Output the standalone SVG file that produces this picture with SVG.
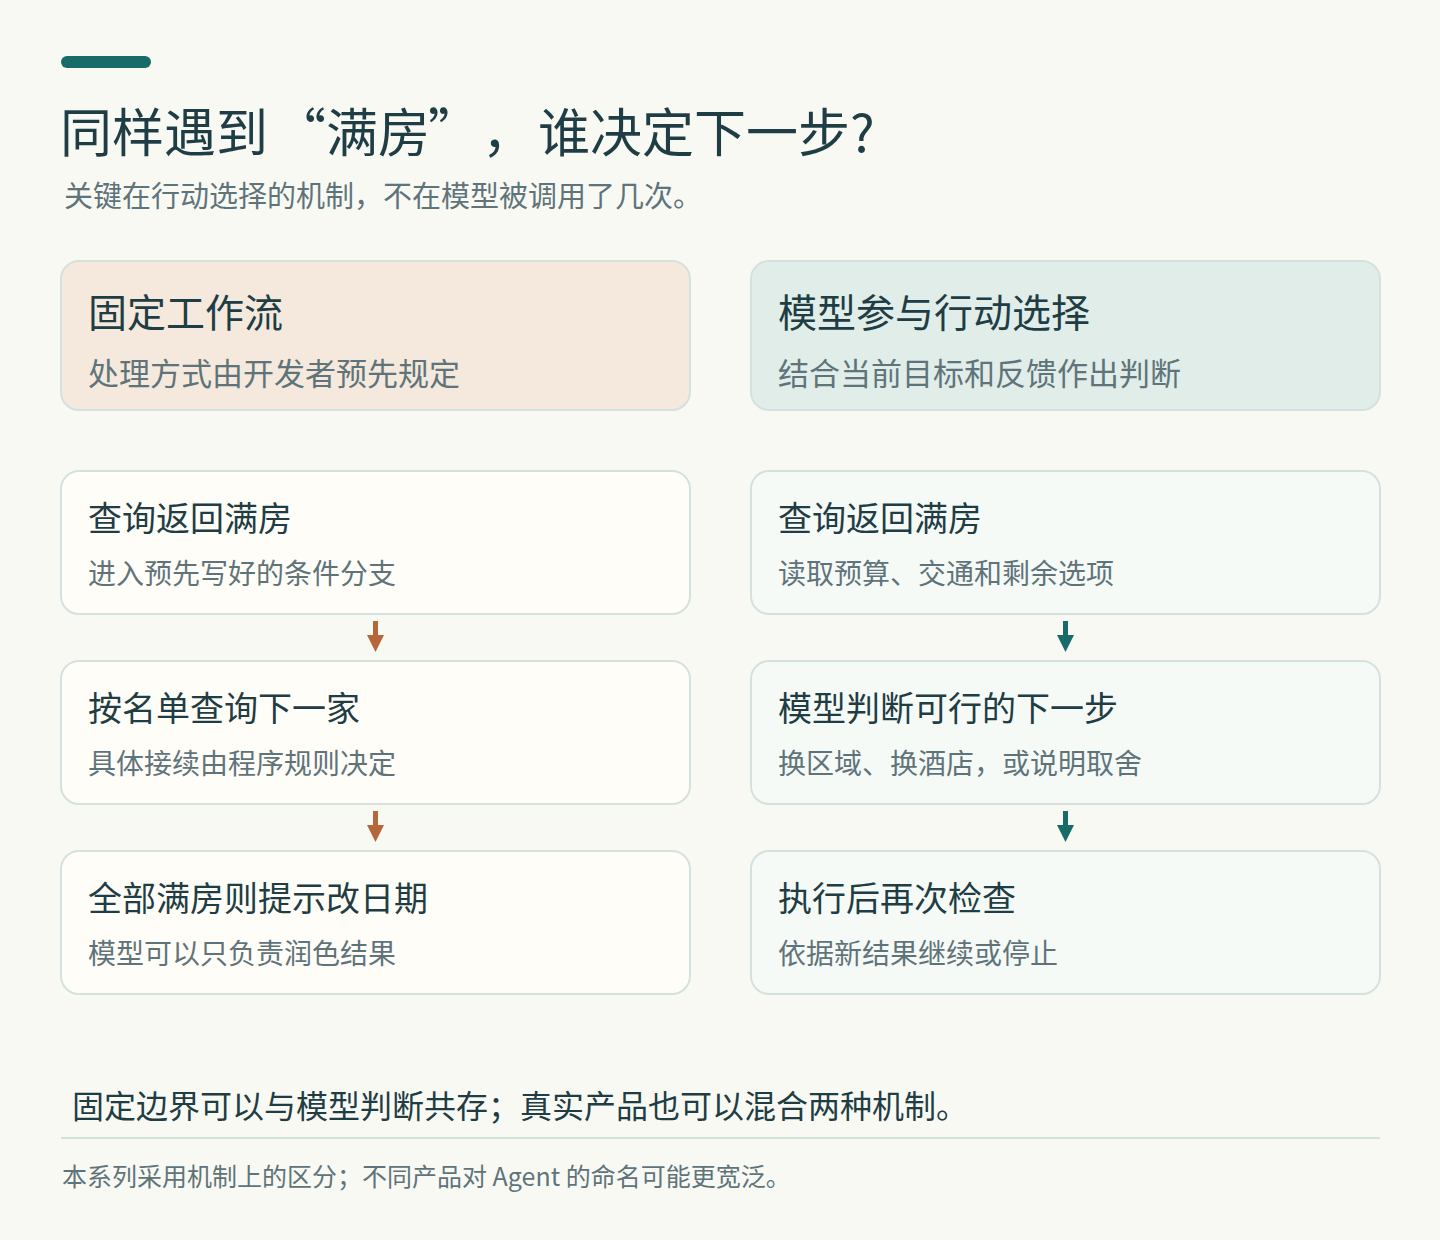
<svg xmlns="http://www.w3.org/2000/svg" width="1440" height="1240" viewBox="0 0 1440 1240">
<style>
text{font-family:"Noto Sans CJK SC","Noto Sans",sans-serif}
.t{fill:#1f3d44}
.s{fill:#5f747a}
.box{stroke:#d5e1de;stroke-width:2}
.hl{fill:#f4e9dc}
.hr{fill:#e0ede8}
.sl{fill:#fffdf7}
.sr{fill:#f6faf7}
.ht{font-size:39px}
.hs{font-size:31px}
.st{font-size:34px}
.ss{font-size:28px}
</style>
<rect width="1440" height="1240" fill="#f9f9f4"/>
<rect x="61" y="56" width="90" height="12" rx="6" fill="#176b68"/>
<text y="152" class="t" font-size="52"><tspan x="60">同样遇到</tspan><tspan x="274">“</tspan><tspan x="326">满房</tspan><tspan x="428">”</tspan><tspan x="482">，</tspan><tspan x="538">谁决定下一步?</tspan></text>
<text x="64" y="207" class="s" font-size="29">关键在行动选择的机制，不在模型被调用了几次。</text>

<g id="header-fixed">
<rect x="61" y="261" width="629" height="149" rx="18" class="box hl"/>
<text x="88" y="327" class="t ht">固定工作流</text>
<text x="88" y="385" class="s hs">处理方式由开发者预先规定</text>
</g>
<g id="header-model">
<rect x="751" y="261" width="629" height="149" rx="18" class="box hr"/>
<text x="778" y="327" class="t ht">模型参与行动选择</text>
<text x="778" y="385" class="s hs">结合当前目标和反馈作出判断</text>
</g>

<g id="left-1">
<rect x="61" y="471" width="629" height="143" rx="18" class="box sl"/>
<text x="88" y="531" class="t st">查询返回满房</text>
<text x="88" y="584" class="s ss">进入预先写好的条件分支</text>
</g>
<g id="left-2">
<rect x="61" y="661" width="629" height="143" rx="18" class="box sl"/>
<text x="88" y="721" class="t st">按名单查询下一家</text>
<text x="88" y="774" class="s ss">具体接续由程序规则决定</text>
</g>
<g id="left-3">
<rect x="61" y="851" width="629" height="143" rx="18" class="box sl"/>
<text x="88" y="911" class="t st">全部满房则提示改日期</text>
<text x="88" y="964" class="s ss">模型可以只负责润色结果</text>
</g>

<g id="right-1">
<rect x="751" y="471" width="629" height="143" rx="18" class="box sr"/>
<text x="778" y="531" class="t st">查询返回满房</text>
<text x="778" y="584" class="s ss">读取预算、交通和剩余选项</text>
</g>
<g id="right-2">
<rect x="751" y="661" width="629" height="143" rx="18" class="box sr"/>
<text x="778" y="721" class="t st">模型判断可行的下一步</text>
<text x="778" y="774" class="s ss">换区域、换酒店，或说明取舍</text>
</g>
<g id="right-3">
<rect x="751" y="851" width="629" height="143" rx="18" class="box sr"/>
<text x="778" y="911" class="t st">执行后再次检查</text>
<text x="778" y="964" class="s ss">依据新结果继续或停止</text>
</g>

<g id="connectors">
<g fill="#b5663a">
<path d="M373 621h5v14h6l-8.5 17l-8.5-17h6z"/>
<path d="M373 811h5v14h6l-8.5 17l-8.5-17h6z"/>
</g>
<g fill="#176b68">
<path d="M1063 621h5v14h6l-8.5 17l-8.5-17h6z"/>
<path d="M1063 811h5v14h6l-8.5 17l-8.5-17h6z"/>
</g>
</g>

<text x="72" y="1118" class="t" font-size="32">固定边界可以与模型判断共存；真实产品也可以混合两种机制。</text>
<line x1="61" y1="1138" x2="1380" y2="1138" stroke="#d5e1de" stroke-width="2"/>
<text x="62" y="1186" class="s" font-size="25">本系列采用机制上的区分；不同产品对 Agent 的命名可能更宽泛。</text>
</svg>
